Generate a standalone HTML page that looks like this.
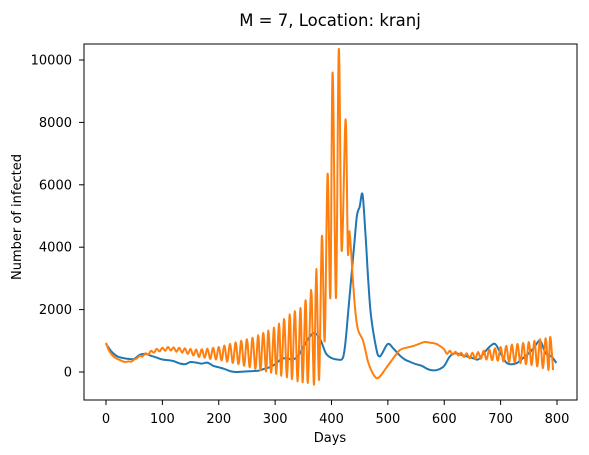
<!DOCTYPE html>
<html><head><meta charset="utf-8"><style>
body{margin:0;background:#fff;}
svg{display:block;font-family:"DejaVu Sans","Liberation Sans",sans-serif;}
</style></head><body>
<svg id="chart" width="589" height="455">
<text x="330" y="26" text-anchor="middle" font-size="16.5">M = 7, Location: kranj</text>
<g id="plot"></g>
<rect x="84" y="44" width="493" height="356" fill="none" stroke="#000" stroke-width="1"/>
<text x="330" y="442" text-anchor="middle" font-size="13">Days</text>
<text transform="translate(21,217) rotate(-90)" text-anchor="middle" font-size="13">Number of infected</text>
</svg>
<script>
const xTicks=[0,100,200,300,400,500,600,700,800];
const yTicks=[0,2000,4000,6000,8000,10000];
const blueDays=[0,10,20,30,40,50,60,70,80,90,100,110,120,130,140,150,160,170,180,190,200,210,220,230,240,250,260,270,280,290,300,310,320,330,340,350,360,370,380,390,400,410,420,425,430,440,445,450,455,460,465,470,480,485,490,500,510,520,530,540,550,560,570,580,590,600,610,620,630,640,650,660,670,680,690,700,710,720,730,740,750,760,770,780,790,799];
const blueVals=[900,650,500,450,420,420,550,580,520,460,400,380,350,280,250,320,300,270,300,200,150,100,30,0,10,20,30,40,100,150,250,400,450,400,500,800,1100,1250,1050,600,450,400,450,1000,2000,4000,5000,5300,5700,4500,3000,1800,700,500,600,900,750,550,400,320,250,200,100,50,80,200,500,600,550,500,450,400,600,800,900,600,300,250,300,450,600,800,1000,600,500,290];
const orangeDays=[0,5,10,15,20,25,30,35,40,45,50,55,60,65,70,75,80,85,90,95,100,105,110,115,120,125,130,135,140,145,150,155,160,165,170,175,180,185,190,195,200,205,210,215,220,225,230,235,240,245,250,255,260,265,270,274,279,284,288,293,298,302,307,311,316,321,326,330,335,340,345,349,354,358,364,369,373,378,383,388,393,398,402,408,413,418,425,429,432,438,442,447,456,465,472,480,488,497,510,521,533,545,555,565,575,586,595,600,605,610,615,620,625,630,635,640,645,650,655,660,665,670,675,680,685,690,695,700,705,710,715,720,725,730,735,740,745,750,755,760,765,770,775,780,785,788,793];
const orangeVals=[940,700,560,470,420,380,340,320,340,330,400,440,520,500,600,560,680,620,740,660,780,680,800,690,790,650,780,620,760,580,740,530,720,480,730,460,750,420,780,400,800,370,850,330,900,290,950,250,1000,200,1050,150,1100,100,1180,60,1250,20,1330,-20,1420,-60,1550,-120,1700,-170,1850,-230,1950,-300,2050,-330,2300,-350,2630,-400,3300,-250,4360,1000,6350,2400,9600,2370,10350,3900,8100,3900,4500,2950,2000,1350,1000,320,0,-200,-100,130,450,700,780,830,900,960,940,900,800,720,580,680,560,650,530,620,480,600,440,620,420,640,420,680,400,720,380,760,360,800,340,840,320,880,300,900,280,930,250,960,220,1000,180,1050,120,1080,60,1130,60];
const X=d=>106+d*(451/800);
const Y=v=>372-v*0.0312;
const NS="http://www.w3.org/2000/svg";
const plot=document.getElementById('plot');
xTicks.forEach(t=>{
  const l=document.createElementNS(NS,'line');
  l.setAttribute('x1',X(t));l.setAttribute('x2',X(t));l.setAttribute('y1',400);l.setAttribute('y2',405);l.setAttribute('stroke','#000');l.setAttribute('stroke-width','1');
  
  
  plot.appendChild(l);
  const tx=document.createElementNS(NS,'text');
  tx.setAttribute('x',X(t));tx.setAttribute('y',423);tx.setAttribute('text-anchor','middle');tx.setAttribute('font-size','13');tx.textContent=t;
  
  
  plot.appendChild(tx);
});
yTicks.forEach(t=>{
  const l=document.createElementNS(NS,'line');
  l.setAttribute('x1',79);l.setAttribute('x2',84);l.setAttribute('y1',Y(t));l.setAttribute('y2',Y(t));l.setAttribute('stroke','#000');l.setAttribute('stroke-width','1');
  
  
  plot.appendChild(l);
  const tx=document.createElementNS(NS,'text');
  tx.setAttribute('x',72);tx.setAttribute('y',Y(t)+4.5);tx.setAttribute('text-anchor','end');tx.setAttribute('font-size','13');tx.textContent=t;
  
  
  plot.appendChild(tx);
});
function line(days,vals,color){
  const pts=days.map((d,i)=>[X(d),Y(vals[i])]);
  let dstr='M'+pts[0][0].toFixed(1)+','+pts[0][1].toFixed(1);
  for(let i=0;i<pts.length-1;i++){
    const p0=pts[Math.max(0,i-1)],p1=pts[i],p2=pts[i+1],p3=pts[Math.min(pts.length-1,i+2)];
    const c1=[p1[0]+(p2[0]-p0[0])/6,p1[1]+(p2[1]-p0[1])/6];
    const c2=[p2[0]-(p3[0]-p1[0])/6,p2[1]-(p3[1]-p1[1])/6];
    dstr+=' C'+c1[0].toFixed(1)+','+c1[1].toFixed(1)+' '+c2[0].toFixed(1)+','+c2[1].toFixed(1)+' '+p2[0].toFixed(1)+','+p2[1].toFixed(1);
  }
  const p=document.createElementNS(NS,'path');
  p.setAttribute('d',dstr);
  p.setAttribute('fill','none');p.setAttribute('stroke',color);p.setAttribute('stroke-width','2');p.setAttribute('stroke-linejoin','round');
  return p;
}
const b=line(blueDays,blueVals,'#1f77b4');


plot.appendChild(b);
const o=line(orangeDays,orangeVals,'#ff7f0e');


plot.appendChild(o);
</script>
</body></html>
